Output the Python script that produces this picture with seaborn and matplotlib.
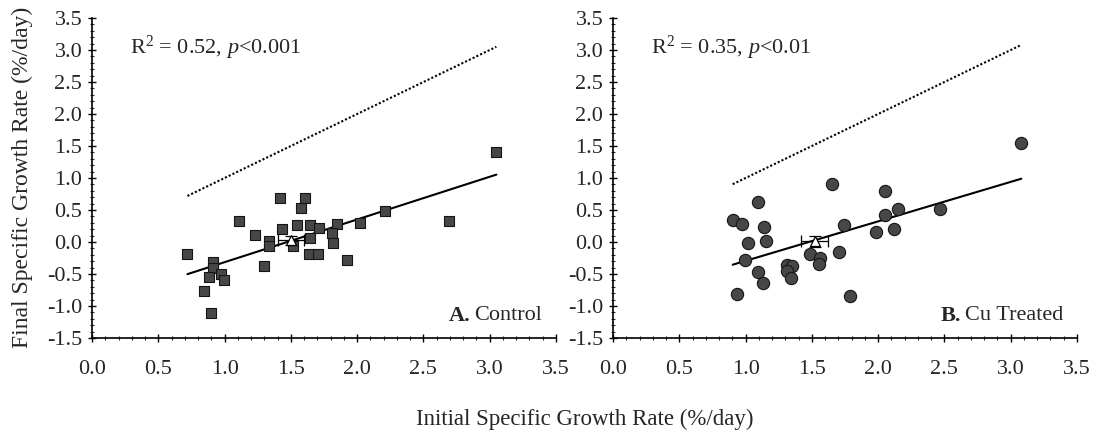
import numpy as np
import matplotlib
matplotlib.use("Agg")
import matplotlib.pyplot as plt
from matplotlib.ticker import MultipleLocator
import seaborn as sns

# Control fish: initial vs final specific growth rate (%/day)
control_initial = [1.42, 1.11, 1.23, 1.435, 1.335, 1.335, 0.72, 1.30, 0.91, 0.91,
                   0.88, 0.973, 0.995, 0.845, 0.895, 1.606, 1.58, 1.548, 1.644, 1.714,
                   1.644, 1.518, 1.845, 1.808, 1.815, 1.639, 1.707, 1.925, 2.02, 2.21,
                   2.69, 3.05]
control_final = [0.68, 0.33, 0.11, 0.20, 0.02, -0.06, -0.18, -0.375, -0.31, -0.41,
                 -0.54, -0.50, -0.60, -0.76, -1.11, 0.68, 0.53, 0.27, 0.27, 0.22,
                 0.07, -0.06, 0.28, 0.14, -0.02, -0.18, -0.19, -0.28, 0.30, 0.49,
                 0.33, 1.41]

# Copper-treated fish
cu_initial = [0.903, 0.975, 1.091, 1.139, 1.018, 1.154, 0.993, 1.096, 1.129, 0.933,
              1.31, 1.348, 1.31, 1.345, 1.486, 1.561, 1.556, 1.654, 1.704, 1.744,
              1.79, 1.985, 2.054, 2.054, 2.122, 2.152, 2.466, 3.08]
cu_final = [0.34, 0.28, 0.63, 0.24, -0.01, 0.02, -0.28, -0.47, -0.64, -0.82,
            -0.36, -0.37, -0.46, -0.56, -0.18, -0.25, -0.35, 0.90, -0.15, 0.27,
            -0.84, 0.16, 0.79, 0.42, 0.20, 0.52, 0.52, 1.55]

# Group means with standard errors (x, y, xerr, yerr)
control_mean = [1.50, 0.03, 0.10, 0.07]
cu_mean = [1.52, 0.01, 0.10, 0.09]

stats_labels = [r"R$^2$ = 0.52, $p$<0.001", r"R$^2$ = 0.35, $p$<0.01"]
panel_letters = ["A.", "B."]
panel_names = ["Control", "Cu Treated"]
x_label = "Initial Specific Growth Rate (%/day)"
y_label = "Final Specific Growth Rate (%/day)"

sns.set_style("ticks")
plt.rcParams["font.family"] = ["Liberation Serif", "DejaVu Serif"]
plt.rcParams["mathtext.fontset"] = "custom"
plt.rcParams["mathtext.rm"] = "Liberation Serif"
plt.rcParams["mathtext.it"] = "Liberation Serif:italic"

fig = plt.figure(figsize=(10.99, 4.42), dpi=100)
ax_a = fig.add_axes([92 / 1099, 1 - 338 / 442, 464 / 1099, 320 / 442])
ax_b = fig.add_axes([613 / 1099, 1 - 338 / 442, 464 / 1099, 320 / 442])

panels = [
    (ax_a, control_initial, control_final, control_mean, "s"),
    (ax_b, cu_initial, cu_final, cu_mean, "o"),
]

for i, (ax, xs, ys, mean, marker) in enumerate(panels):
    xs = np.asarray(xs)
    ys = np.asarray(ys)

    # 1:1 reference line over the range of initial rates
    span = np.array([xs.min(), xs.max()])
    sns.lineplot(x=span, y=span, ax=ax, color="black", lw=1.5,
                 linestyle=(0, (1, 1)), zorder=2)

    # least-squares fit
    sns.regplot(x=xs, y=ys, ax=ax, ci=None, scatter=False, truncate=True,
                line_kws=dict(color="black", lw=1.5, zorder=3))

    sns.scatterplot(x=xs, y=ys, ax=ax, marker=marker, s=55 if marker == "s" else 78,
                    color="#474747", edgecolor="#151515", linewidth=0.8, zorder=4)

    ax.errorbar(mean[0], mean[1], xerr=mean[2], yerr=mean[3], fmt="^",
                mfc="white", mec="black", ms=7, mew=0.9, ecolor="black",
                elinewidth=0.9, capsize=4, capthick=0.9, zorder=5)

    ax.set_xlim(0, 3.5)
    ax.set_ylim(-1.5, 3.5)
    ax.xaxis.set_major_locator(MultipleLocator(0.5))
    ax.xaxis.set_minor_locator(MultipleLocator(0.1))
    ax.yaxis.set_major_locator(MultipleLocator(0.5))
    ax.yaxis.set_minor_locator(MultipleLocator(0.1))
    ax.xaxis.set_major_formatter(plt.FormatStrFormatter("%.1f"))
    ax.yaxis.set_major_formatter(plt.FormatStrFormatter("%.1f"))
    ax.tick_params(axis="x", which="major", direction="inout", length=6, width=1,
                   labelsize=16, pad=13, color="black")
    ax.tick_params(axis="x", which="minor", direction="inout", length=3.5, width=0.8)
    ax.tick_params(axis="y", which="major", direction="inout", length=6, width=1,
                   labelsize=16, pad=4, color="black")
    ax.tick_params(axis="y", which="minor", direction="inout", length=3.5, width=0.8)
    for side in ("top", "right"):
        ax.spines[side].set_visible(False)
    for side in ("left", "bottom"):
        ax.spines[side].set_linewidth(1.2)
        ax.spines[side].set_color("black")
    ax.set_xlabel("")
    ax.set_ylabel("")

    ax.text(0.082, 0.905, stats_labels[i], transform=ax.transAxes, fontsize=16,
            ha="left", va="center")
    ax.text(0.97, 0.07, panel_names[i], transform=ax.transAxes, fontsize=16,
            ha="right", va="center")

# Bold panel letters placed just before the panel names
fig.canvas.draw()
renderer = fig.canvas.get_renderer()
for ax, letter in zip((ax_a, ax_b), panel_letters):
    name_txt = ax.texts[-1]
    bbox = name_txt.get_window_extent(renderer).transformed(ax.transAxes.inverted())
    ax.text(bbox.x0 - 0.008, 0.07, letter, transform=ax.transAxes, fontsize=16,
            fontweight="bold", ha="right", va="center")

fig.text(585 / 1099, 1 - 419 / 442, x_label, fontsize=16.5, ha="center", va="center")
fig.text(22 / 1099, 1 - 177 / 442, y_label, fontsize=17, ha="center", va="center",
         rotation=90)

fig.savefig("out.png", dpi=100, facecolor="white")
